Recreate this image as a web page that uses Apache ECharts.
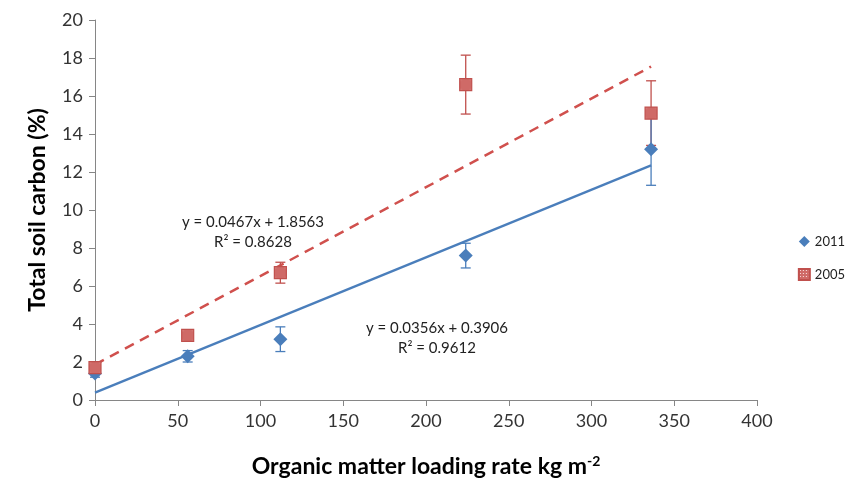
<!DOCTYPE html>
<html>
<head>
<meta charset="utf-8">
<script src="https://cdn.jsdelivr.net/npm/echarts@6/dist/echarts.min.js"></script>
<style>
  html, body { margin: 0; padding: 0; background: #fff; }
  #chart { width: 860px; height: 484px; }
</style>
</head>
<body>
<div id="chart"></div>
<script>
// loading rate (kg m-2)
var loadRates = [0, 56, 112, 224, 336];
// total soil carbon (%) and error bars
var carbon2011 = [1.4, 2.3, 3.2, 7.6, 13.2];
var err2011 = [0.2, 0.3, 0.65, 0.65, 1.9];
var carbon2005 = [1.7, 3.4, 6.7, 16.6, 15.1];
var err2005 = [0.2, 0.2, 0.55, 1.55, 1.7];
// linear trend lines, endpoints
var trend2011 = [[0, 0.39], [336, 12.35]];
var trend2005 = [[0, 1.86], [336, 17.55]];
var eq2011 = ['y = 0.0356x + 0.3906', 'R² = 0.9612'];
var eq2005 = ['y = 0.0467x + 1.8563', 'R² = 0.8628'];

var BLUE = '#4a7ebb';
var RED = '#c0504d';
var FONT = 'Lato';

// dotted fill for the 2005 squares
var pat = document.createElement('canvas');
pat.width = 3; pat.height = 3;
var pctx = pat.getContext('2d');
pctx.fillStyle = '#cf6a67';
pctx.fillRect(0, 0, 3, 3);
pctx.fillStyle = '#fbe4e3';
pctx.fillRect(1, 1, 1, 1);

function pts(xs, ys) {
  return xs.map(function (x, i) { return [x, ys[i]]; });
}
function errs(xs, ys, es) {
  return xs.map(function (x, i) { return [x, ys[i] - es[i], ys[i] + es[i]]; });
}
function errorBar(color) {
  return function (params, api) {
    var x = api.value(0);
    var lo = api.coord([x, api.value(1)]);
    var hi = api.coord([x, api.value(2)]);
    var w = 5;
    var st = { stroke: color, lineWidth: 1.3 };
    return {
      type: 'group',
      children: [
        { type: 'line', shape: { x1: lo[0], y1: lo[1], x2: hi[0], y2: hi[1] }, style: st },
        { type: 'line', shape: { x1: lo[0] - w, y1: lo[1], x2: lo[0] + w, y2: lo[1] }, style: st },
        { type: 'line', shape: { x1: hi[0] - w, y1: hi[1], x2: hi[0] + w, y2: hi[1] }, style: st }
      ]
    };
  };
}

var chart = echarts.init(document.getElementById('chart'));
chart.setOption({
  animation: false,
  backgroundColor: '#fff',
  grid: { left: 95, right: 103, top: 20, bottom: 84 },
  legend: {
    orient: 'vertical',
    right: 10,
    top: 230,
    itemGap: 20,
    itemWidth: 11,
    itemHeight: 11,
    data: [
      { name: '2011', icon: 'diamond' },
      { name: '2005', icon: 'rect' }
    ],
    textStyle: { fontFamily: FONT, fontSize: 13, color: '#222' }
  },
  xAxis: {
    type: 'value',
    min: 0, max: 400, interval: 50,
    name: 'Organic matter loading rate kg m{sup|-2}',
    nameLocation: 'middle',
    nameGap: 54,
    nameTextStyle: {
      fontFamily: FONT, fontSize: 23, fontWeight: 'bold', color: '#000',
      rich: { sup: { fontFamily: FONT, fontSize: 14, fontWeight: 'bold', color: '#000', padding: [0, 0, 11, 0] } }
    },
    axisLine: { lineStyle: { color: '#868686' } },
    axisTick: { length: 6, lineStyle: { color: '#868686' } },
    axisLabel: { fontFamily: FONT, fontSize: 18, color: '#333', margin: 12 },
    splitLine: { show: false }
  },
  yAxis: {
    type: 'value',
    min: 0, max: 20, interval: 2,
    name: 'Total soil carbon (%)',
    nameLocation: 'middle',
    nameGap: 46,
    nameTextStyle: { fontFamily: FONT, fontSize: 23, fontWeight: 'bold', color: '#000' },
    axisLine: { show: true, lineStyle: { color: '#868686' } },
    axisTick: { show: true, length: 6, lineStyle: { color: '#868686' } },
    axisLabel: { fontFamily: FONT, fontSize: 18, color: '#333', margin: 12 },
    splitLine: { show: false }
  },
  graphic: [
    {
      type: 'text', x: 253, y: 212,
      style: { text: eq2005.join('\n'), fontFamily: FONT, fontSize: 15, fill: '#222', align: 'center', lineHeight: 20 }
    },
    {
      type: 'text', x: 437, y: 318,
      style: { text: eq2011.join('\n'), fontFamily: FONT, fontSize: 15, fill: '#222', align: 'center', lineHeight: 20 }
    }
  ],
  series: [
    {
      name: 'trend2005', type: 'line', data: trend2005, symbol: 'none', silent: true,
      lineStyle: { color: '#d0504d', width: 2.5, type: [10, 7] }, z: 1
    },
    {
      name: 'trend2011', type: 'line', data: trend2011, symbol: 'none', silent: true,
      lineStyle: { color: BLUE, width: 2.3 }, z: 1
    },
    {
      name: 'err2005', type: 'custom', renderItem: errorBar(RED),
      data: errs(loadRates, carbon2005, err2005), z: 2
    },
    {
      name: 'err2011', type: 'custom', renderItem: errorBar(BLUE),
      data: errs(loadRates, carbon2011, err2011), z: 2
    },
    {
      name: '2011', type: 'scatter', symbol: 'diamond', symbolSize: 14,
      data: pts(loadRates, carbon2011),
      itemStyle: { color: BLUE, opacity: 1 }, z: 3
    },
    {
      name: '2005', type: 'scatter', symbol: 'rect', symbolSize: 12,
      data: pts(loadRates, carbon2005),
      itemStyle: { color: { image: pat, repeat: 'repeat' }, borderColor: RED, borderWidth: 1.2, opacity: 1 }, z: 4
    }
  ]
});
</script>
</body>
</html>
